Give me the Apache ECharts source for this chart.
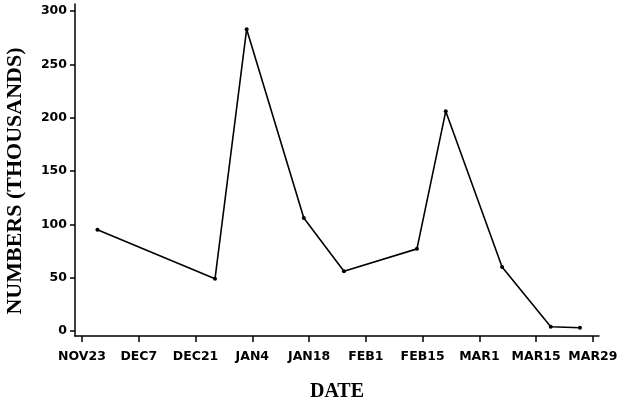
<!DOCTYPE html>
<html>
<head>
<meta charset="utf-8">
<script src="https://cdn.jsdelivr.net/npm/echarts@6/dist/echarts.min.js"></script>
<style>html,body{margin:0;padding:0;background:#fff}#c{width:617px;height:403px}</style>
</head>
<body>
<div id="c"></div>
<script>
// Days counted from Nov 23
const dayOffsets = [3.8, 32.8, 40.6, 54.7, 64.6, 82.6, 89.7, 103.6, 115.6, 122.8];
const numbers = [95, 49, 283, 106, 56, 77, 206, 60, 4, 3];
const xTickDays = [0, 14, 28, 42, 56, 70, 84, 98, 112, 126];
const xTickLabels = ['NOV23', 'DEC7', 'DEC21', 'JAN4', 'JAN18', 'FEB1', 'FEB15', 'MAR1', 'MAR15', 'MAR29'];
const yTicks = [0, 50, 100, 150, 200, 250, 300];

const chart = echarts.init(document.getElementById('c'), null, {renderer: 'canvas'});
const labelFont = {fontFamily: 'DejaVu Sans', fontSize: 12.5, fontWeight: 'bold', color: '#000'};
chart.setOption({
  animation: false,
  backgroundColor: '#fff',
  grid: {left: 75, right: 18, top: 4, bottom: 67, containLabel: false, outerBoundsMode: 'none'},
  xAxis: {
    type: 'value',
    min: -1.73, max: 127.5,
    name: 'DATE',
    nameLocation: 'middle',
    nameGap: 46,
    nameTextStyle: {fontFamily: 'Liberation Serif', fontWeight: 'bold', fontSize: 20, color: '#000'},
    axisLine: {show: true, onZero: false, lineStyle: {color: '#000', width: 1.5}},
    axisTick: {show: true, customValues: xTickDays, length: 6, inside: false, lineStyle: {color: '#000', width: 1.5}},
    axisLabel: Object.assign({customValues: xTickDays, margin: 14,
      formatter: v => xTickLabels[xTickDays.indexOf(v)] || ''}, labelFont),
    splitLine: {show: false}
  },
  yAxis: {
    type: 'value',
    min: -4.7, max: 306.6,
    name: 'NUMBERS (THOUSANDS)',
    nameLocation: 'middle',
    nameGap: 49,
    nameRotate: 90,
    nameTextStyle: {fontFamily: 'Liberation Serif', fontWeight: 'bold', fontSize: 22, color: '#000', padding: [0, 22, 0, 0]},
    axisLine: {show: true, onZero: false, lineStyle: {color: '#000', width: 1.5}},
    axisTick: {show: true, customValues: yTicks, length: 5, lineStyle: {color: '#000', width: 1.5}},
    axisLabel: Object.assign({customValues: yTicks, margin: 8}, labelFont),
    splitLine: {show: false}
  },
  series: [{
    type: 'line',
    data: dayOffsets.map((d, i) => [d, numbers[i]]),
    symbol: 'circle',
    symbolSize: 4,
    lineStyle: {color: '#000', width: 1.6},
    itemStyle: {color: '#000'}
  }]
});
</script>
</body>
</html>
